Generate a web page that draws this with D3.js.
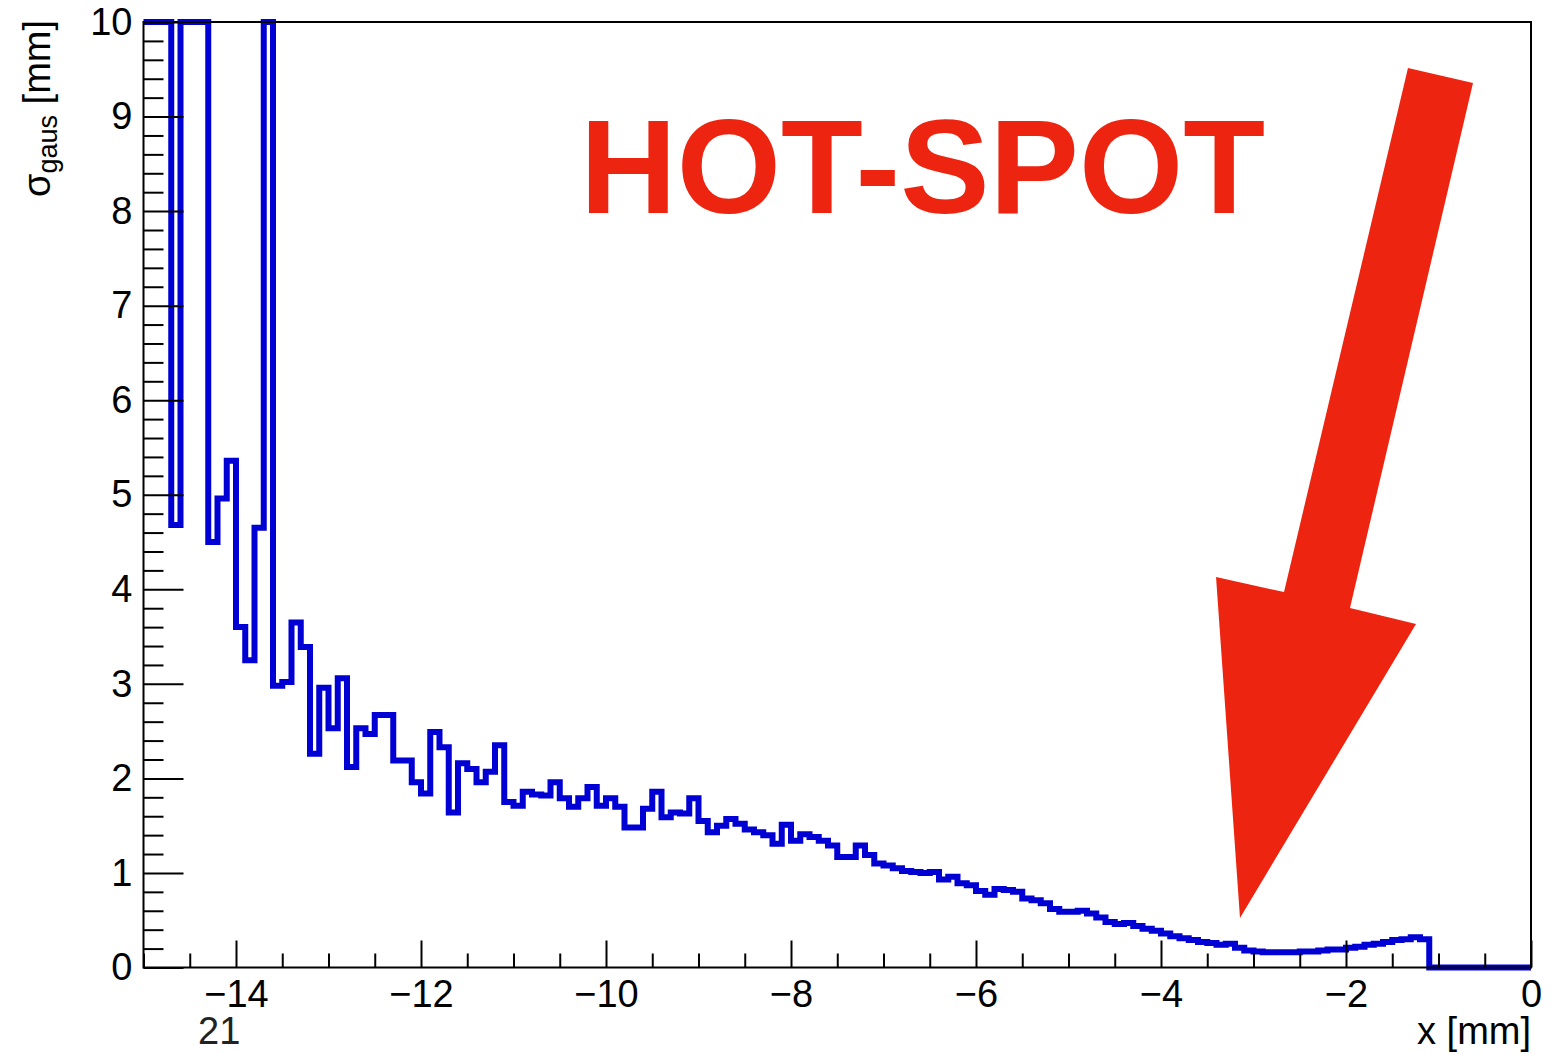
<!DOCTYPE html>
<html>
<head>
<meta charset="utf-8">
<script src="https://cdn.jsdelivr.net/npm/d3@7"></script>
<style>
  html, body { margin: 0; padding: 0; background: #fff; }
  svg { display: block; }
  text { font-family: "Liberation Sans", Arial, Helvetica, sans-serif; }
</style>
</head>
<body>
<svg id="chart" width="1559" height="1054"></svg>
<script>
// ---------------- data ----------------
const xDomain = [-15, 0];
const yDomain = [0, 10];
const binWidth = 0.1;           // histogram: 150 bins from -15 to 0
// sigma_gaus per bin (values above 10 are off-scale in the plot)
const sigmaValues = [
  12, 12, 12, 4.68, 12, 12, 12, 4.50, 4.96, 5.36,
  3.60, 3.25, 4.65, 12, 2.98, 3.02, 3.65, 3.39, 2.26, 2.96,
  2.53, 3.06, 2.12, 2.53, 2.47, 2.67, 2.67, 2.19, 2.19, 1.96,
  1.84, 2.49, 2.33, 1.64, 2.16, 2.10, 1.96, 2.07, 2.35, 1.75,
  1.71, 1.86, 1.83, 1.82, 1.96, 1.79, 1.70, 1.79, 1.91, 1.71,
  1.79, 1.70, 1.48, 1.48, 1.68, 1.86, 1.59, 1.64, 1.63, 1.79,
  1.55, 1.43, 1.50, 1.57, 1.52, 1.46, 1.43, 1.40, 1.31, 1.51,
  1.34, 1.41, 1.38, 1.34, 1.29, 1.17, 1.17, 1.29, 1.19, 1.10,
  1.08, 1.05, 1.02, 1.01, 1.00, 1.01, 0.93, 0.96, 0.89, 0.87,
  0.81, 0.77, 0.83, 0.82, 0.80, 0.73, 0.71, 0.68, 0.62, 0.59,
  0.59, 0.60, 0.57, 0.53, 0.48, 0.46, 0.47, 0.44, 0.41, 0.39,
  0.36, 0.33, 0.31, 0.29, 0.27, 0.26, 0.24, 0.25, 0.21, 0.18,
  0.17, 0.16, 0.16, 0.16, 0.16, 0.17, 0.17, 0.18, 0.19, 0.19,
  0.21, 0.22, 0.24, 0.25, 0.27, 0.29, 0.30, 0.32, 0.30, 0,
  0, 0, 0, 0, 0, 0, 0, 0, 0, 0
];
const xMajorTicks = [-14, -12, -10, -8, -6, -4, -2, 0];
const xTickLabels = ["\u221214", "\u221212", "\u221210", "\u22128", "\u22126", "\u22124", "\u22122", "0"];
const yMajorTicks = [0, 1, 2, 3, 4, 5, 6, 7, 8, 9, 10];
const yTickLabels = ["0", "1", "2", "3", "4", "5", "6", "7", "8", "9", "10"];
const xTitle = "x [mm]";
const yTitleMain = "\u03c3", yTitleSub = "gaus", yTitleUnit = " [mm]";
const annotationText = "HOT-SPOT";
const annotationPos = [-10.28, 7.98];
// arrow outline in data units
const arrowPoints = [
  [-1.330, 9.513], [-0.627, 9.355], [-1.957, 3.802], [-1.243, 3.633],
  [-3.146, 0.524], [-3.405, 4.130], [-2.670, 3.971]
];
const strayLabel = "21";

// ---------------- drawing ----------------
const svg = d3.select("#chart");
svg.append("rect").attr("width", 1559).attr("height", 1054).attr("fill", "#fff");

const L = 143.5, R = 1531, T = 22, B = 967.5;
const x = d3.scaleLinear().domain(xDomain).range([L, R]);
const y = d3.scaleLinear().domain(yDomain).range([B, T]).clamp(true);

// histogram path (step outline)
const bins = sigmaValues.map((v, i) => ({ x0: xDomain[0] + i * binWidth, x1: xDomain[0] + (i + 1) * binWidth, v }));
let pts = [];
bins.forEach(b => { pts.push([x(b.x0), y(b.v)]); pts.push([x(b.x1), y(b.v)]); });
svg.append("path")
  .attr("d", d3.line()(pts))
  .attr("fill", "none")
  .attr("stroke", "#0000d4")
  .attr("stroke-width", 6)
  .attr("stroke-linejoin", "miter");

// axes
const fs = 38;
const xMinor = d3.range(-15, 0.001, 0.5).filter(v => Math.abs(v / 2 - Math.round(v / 2)) > 1e-6);
const yMinor = d3.range(0, 10.001, 0.2).filter(v => Math.abs(v - Math.round(v)) > 1e-6);

svg.append("g").attr("transform", `translate(0,${B})`)
  .call(d3.axisBottom(x).tickValues(xMajorTicks).tickSize(-27).tickPadding(13)
    .tickFormat((d, i) => xTickLabels[i]));
svg.append("g").attr("transform", `translate(0,${B})`)
  .call(d3.axisBottom(x).tickValues(xMinor).tickSize(-14).tickFormat(""));
svg.append("g").attr("transform", `translate(${L},0)`)
  .call(d3.axisLeft(y).tickValues(yMajorTicks).tickSize(-40).tickPadding(11)
    .tickFormat((d, i) => yTickLabels[i]));
svg.append("g").attr("transform", `translate(${L},0)`)
  .call(d3.axisLeft(y).tickValues(yMinor).tickSize(-20).tickFormat(""));

svg.selectAll(".domain").remove();
svg.selectAll(".tick line").attr("stroke", "#000").attr("stroke-width", 2);
svg.selectAll(".tick text").attr("font-size", fs).attr("fill", "#000")
  .attr("font-family", '"Liberation Sans", Arial, Helvetica, sans-serif');

// frame
svg.append("rect").attr("x", L).attr("y", T).attr("width", R - L).attr("height", B - T)
  .attr("fill", "none").attr("stroke", "#000").attr("stroke-width", 2);

// axis titles
svg.append("text").attr("x", R).attr("y", 1044).attr("text-anchor", "end")
  .attr("font-size", fs).attr("fill", "#000").text(xTitle);

const yt = svg.append("text").attr("transform", `translate(50,${T - 2}) rotate(-90)`)
  .attr("text-anchor", "end").attr("font-size", fs).attr("fill", "#000");
yt.append("tspan").text(yTitleMain);
yt.append("tspan").attr("font-size", 27).attr("dy", 7).text(yTitleSub);
yt.append("tspan").attr("font-size", fs).attr("dy", -7).text(yTitleUnit);

// stray label under the axis
svg.append("text").attr("x", 198).attr("y", 1044).attr("font-size", fs).attr("fill", "#222").text(strayLabel);

// annotation
svg.append("text").attr("x", x(annotationPos[0])).attr("y", y(annotationPos[1]))
  .attr("font-size", 134).attr("font-weight", "bold").attr("fill", "#ed2410")
  .text(annotationText);
svg.append("polygon")
  .attr("points", arrowPoints.map(p => [x(p[0]), y(p[1])].join(",")).join(" "))
  .attr("fill", "#ed2410");
</script>
</body>
</html>
